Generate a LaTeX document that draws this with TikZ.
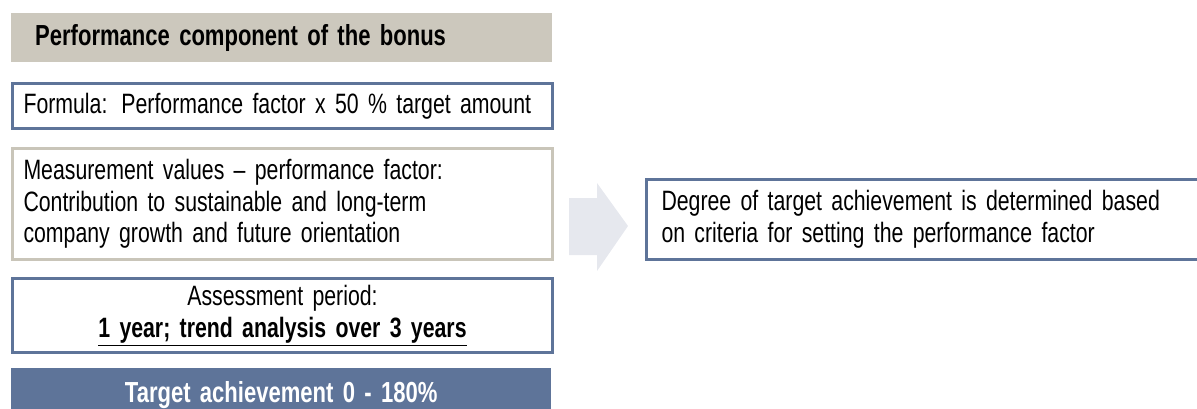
\documentclass[tikz,border=0pt]{standalone}
\usepackage{fontspec}
\setmainfont{Liberation Sans}[FakeStretch=0.76, WordSpace=0.75]
\definecolor{bonusblue}{HTML}{5E7499}
\definecolor{bonustaupe}{HTML}{CCC8BD}
\definecolor{boxtaupe}{HTML}{C9C5B9}
\definecolor{arrowgray}{HTML}{E6E8EE}
\begin{document}
\begin{tikzpicture}[x=1pt, y=-1pt,
    every node/.style={font=\fontsize{28}{31.5}\selectfont, inner xsep=11pt, inner ysep=0pt,
                       anchor=north west, minimum width=540pt},
    bluebox/.style={draw=bonusblue, line width=3pt},
    greybox/.style={draw=boxtaupe, line width=3pt}]
  \useasboundingbox (0,0) rectangle (1197,408);
  % left column
  \node[fill=bonustaupe, minimum height=49pt, text width=493pt, inner xsep=24pt]
       (title) at (11,13) {\fontsize{29}{31.5}\selectfont\bfseries Performance component of the bonus};
  \node[bluebox, minimum height=45pt, text width=518pt] (formula) at (11,82)
       {Formula: Performance factor x 50 \% target amount};
  \node[greybox, minimum height=111pt, text width=518pt, align=left] (measure) at (11,147)
       {Measurement values -- performance factor:\\
        Contribution to sustainable and long-term\\
        company growth and future orientation};
  \node[bluebox, minimum height=74pt, text width=518pt, align=center] (period) at (11,277)
       {Assessment period:\\ \bfseries\underline{1 year; trend analysis over 3 years}};
  \node[fill=bonusblue, text=white, minimum height=54pt, text width=518pt, align=center]
       (target) at (11,368) {\fontsize{29}{31.5}\selectfont\bfseries Target achievement 0 - 180\%};
  % arrow and result
  \fill[arrowgray] (569,198) -- (597,198) -- (597,183) -- (628,226)
                   -- (597,271) -- (597,255) -- (569,255) -- cycle;
  \node[bluebox, minimum height=80pt, minimum width=560pt, text width=530pt, align=left]
       (degree) at (645,178)
       {Degree of target achievement is determined based\\
        on criteria for setting the performance factor};
\end{tikzpicture}
\end{document}
